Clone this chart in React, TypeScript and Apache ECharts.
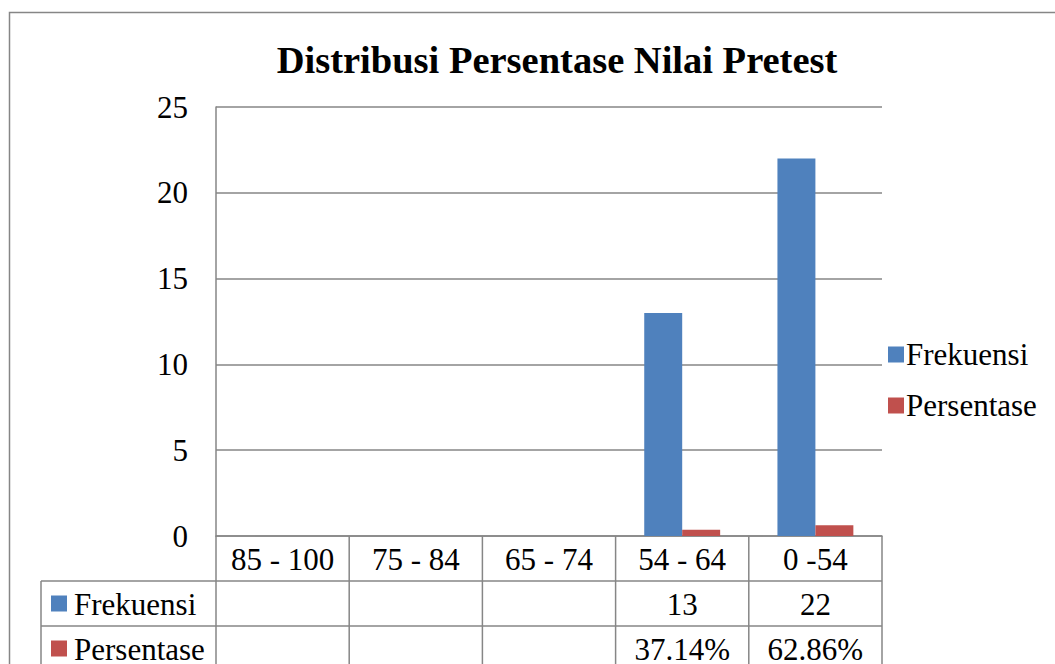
import React, { useEffect, useRef } from "react";
import * as echarts from "echarts";

const categories = ["85 - 100", "75 - 84", "65 - 74", "54 - 64", "0 -54"];
const frekuensi: (number | null)[] = [null, null, null, 13, 22];
const persentase: (number | null)[] = [null, null, null, 0.3714, 0.6286];
const seriesNames = ["Frekuensi", "Persentase"];
const colors = ["#4F81BD", "#C0504D"];
const title = "Distribusi Persentase Nilai Pretest";

const FONT = "'Liberation Serif', 'Times New Roman', serif";
const GRAY = "#868686";
const FS = 31;

export default function App() {
  const ref = useRef<HTMLDivElement>(null);
  useEffect(() => {
    if (!ref.current) return;
    const chart = echarts.init(ref.current, null, { renderer: "svg" });
    const option: any = {
      animation: false,
      backgroundColor: "#fff",
      title: {
        text: title,
        left: 552,
        top: 35,
        textAlign: "center",
        textStyle: { fontFamily: FONT, fontSize: 38.5, fontWeight: "bold", color: "#000" },
      },
      legend: {
        orient: "vertical",
        left: 883,
        top: 334,
        itemWidth: 16,
        itemHeight: 16,
        itemGap: 20,
        icon: "rect",
        data: seriesNames,
        textStyle: { fontFamily: FONT, fontSize: FS, color: "#000", padding: [0, 0, 0, -3] },
      },
      grid: { left: 216, top: 107, right: 173, bottom: 128, containLabel: false },
      xAxis: {
        type: "category",
        data: categories,
        axisLine: { show: true, lineStyle: { color: GRAY, width: 1.5 } },
        axisTick: { show: false },
        axisLabel: { fontFamily: FONT, fontSize: FS, color: "#000", margin: 8, interval: 0, hideOverlap: false },
      },
      yAxis: {
        type: "value",
        min: 0,
        max: 25,
        interval: 5,
        axisLine: { show: true, lineStyle: { color: GRAY, width: 1.5 } },
        axisTick: { show: false },
        splitLine: { lineStyle: { color: GRAY, width: 1.5 } },
        axisLabel: { fontFamily: FONT, fontSize: FS, color: "#000", margin: 28 },
      },
      series: [
        {
          name: seriesNames[0],
          type: "bar",
          data: frekuensi,
          itemStyle: { color: colors[0] },
          barGap: "0%",
          barCategoryGap: "43%",
        },
        {
          name: seriesNames[1],
          type: "bar",
          data: persentase,
          itemStyle: { color: colors[1] },
          barGap: "0%",
          barCategoryGap: "43%",
        },
      ],
    };
    chart.setOption(option);

    const x0 = chart.convertToPixel({ xAxisIndex: 0 }, categories[0]) as number;
    const x1 = chart.convertToPixel({ xAxisIndex: 0 }, categories[1]) as number;
    const step = x1 - x0;
    const left = x0 - step / 2;
    const right = left + step * categories.length;
    const yAxisY = chart.convertToPixel({ yAxisIndex: 0 }, 0) as number;
    const rowH = 45;
    const tableLeft = 41;
    const row1 = yAxisY + rowH;
    const row2 = row1 + rowH;
    const bottom = 720;
    const lineStyle = { stroke: GRAY, lineWidth: 1.5 };
    const g: any[] = [];
    g.push({ type: "rect", shape: { x: 9.5, y: 12.5, width: 1200, height: 800 }, style: { fill: "none", stroke: GRAY, lineWidth: 1.5 }, silent: true, z: 0 });
    [row1, row2].forEach((y) => g.push({ type: "line", shape: { x1: tableLeft, y1: y, x2: right, y2: y }, style: lineStyle }));
    g.push({ type: "line", shape: { x1: tableLeft, y1: row1, x2: tableLeft, y2: bottom }, style: lineStyle });
    for (let i = 0; i <= categories.length; i++) {
      const x = left + i * step;
      g.push({ type: "line", shape: { x1: x, y1: yAxisY, x2: x, y2: bottom }, style: lineStyle });
    }
    const rows = [
      { name: seriesNames[0], color: colors[0], values: frekuensi.map((v) => (v == null ? "" : String(v))), y: row1 },
      { name: seriesNames[1], color: colors[1], values: persentase.map((v) => (v == null ? "" : (v * 100).toFixed(2) + "%")), y: row2 },
    ];
    rows.forEach((r) => {
      const cy = r.y + rowH / 2;
      g.push({ type: "rect", shape: { x: 51, y: cy - 8, width: 16, height: 16 }, style: { fill: r.color } });
      g.push({ type: "text", x: 74, y: cy + 1, style: { text: r.name, fontFamily: FONT, fontSize: FS, fill: "#000", verticalAlign: "middle", align: "left" } });
      r.values.forEach((t, i) => {
        if (!t) return;
        g.push({ type: "text", x: left + (i + 0.5) * step, y: cy + 1, style: { text: t, fontFamily: FONT, fontSize: FS, fill: "#000", verticalAlign: "middle", align: "center" } });
      });
    });
    chart.setOption({ graphic: g });
    return () => chart.dispose();
  }, []);
  return <div ref={ref} style={{ position: "fixed", left: 0, top: 0, width: 1055, height: 664 }} />;
}
